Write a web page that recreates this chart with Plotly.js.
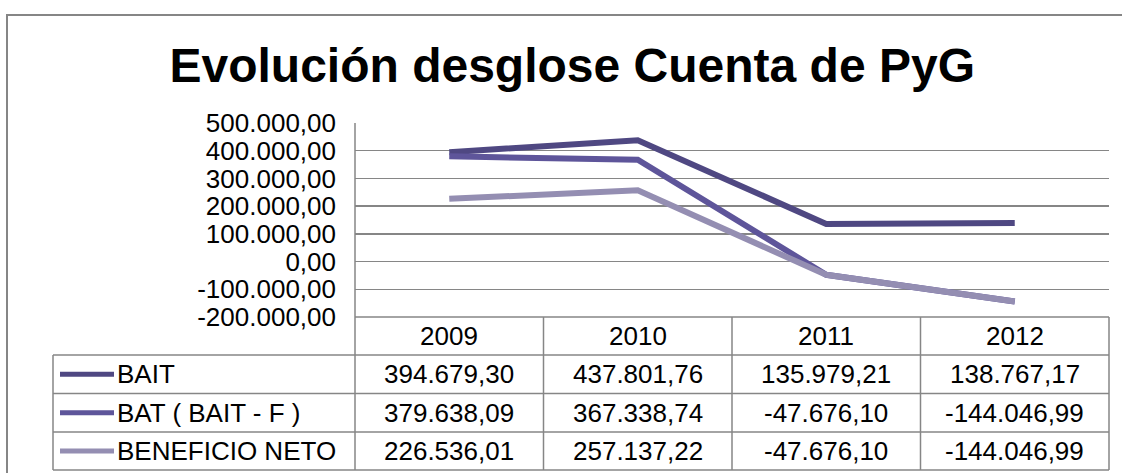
<!DOCTYPE html>
<html>
<head>
<meta charset="utf-8">
<script src="https://cdn.plot.ly/plotly-3.0.1.min.js"></script>
<style>
  body { margin: 0; background: #fff; }
  #graph { width: 1122px; height: 473px; }
</style>
</head>
<body>
<div id="graph"></div>
<script>
var years = ['2009', '2010', '2011', '2012'];
var names = ['BAIT', 'BAT ( BAIT - F )', 'BENEFICIO NETO'];
var bait = [394679.30, 437801.76, 135979.21, 138767.17];
var bat = [379638.09, 367338.74, -47676.10, -144046.99];
var neto = [226536.01, 257137.22, -47676.10, -144046.99];
var tickVals = [-200000, -100000, 0, 100000, 200000, 300000, 400000, 500000];

var colors = ['#4f4882', '#5e559a', '#948eb2'];
var series = [bait, bat, neto];
var fontFam = 'Liberation Sans, Arial, sans-serif';
var gridCol = '#868686';
var txtSize = 26;

// spanish number format 1.234,56
function fmt(v){
    var s = Math.abs(v).toFixed(2).split('.');
    var ent = s[0].replace(/\B(?=(\d{3})+(?!\d))/g, '.');
    return (v < 0 ? '-' : '') + ent + ',' + s[1];
}

// plot area is 355..1109 px wide, 123..317 px high
function px(x){ return (x - 355) / 754; }
function py(y){ return (317 - y) / 194; }

var charts = [];
for (var i = 0; i < series.length; i++){
    charts.push({
        type: 'scatter',
        mode: 'lines',
        x: years,
        y: series[i],
        line: {color: colors[i], width: 6},
        showlegend: false,
        hoverinfo: 'skip'
    });
}

var shapes = [];
var annotations = [];
function hline(x0, x1, y){
    shapes.push({type: 'line', xref: 'paper', yref: 'paper', x0: px(x0), x1: px(x1), y0: py(y), y1: py(y),
                 line: {color: gridCol, width: 1.5}});
}
function vline(x, y0, y1){
    shapes.push({type: 'line', xref: 'paper', yref: 'paper', x0: px(x), x1: px(x), y0: py(y0), y1: py(y1),
                 line: {color: gridCol, width: 1.5}});
}
function label(xr, x, y, txt, anchor){
    annotations.push({xref: xr, yref: 'paper', x: x, y: y, xanchor: anchor, yanchor: 'middle',
                      text: txt, showarrow: false,
                      font: {size: txtSize, color: '#000', family: fontFam}});
}

// outer frame
shapes.push({type: 'rect', xref: 'paper', yref: 'paper', x0: px(7), x1: px(1135), y0: py(15), y1: py(490),
             line: {color: gridCol, width: 2}});

// table grid
var rowY = [317, 355, 393.5, 432, 470];
var colX = [355, 543.5, 732, 920.5, 1109];
vline(355, 123, 470);
for (var c = 1; c < colX.length; c++) vline(colX[c], 317, 470);
vline(53, 355, 470);
hline(355, 1109, 317);
for (var r = 1; r < rowY.length; r++) hline(53, 1109, rowY[r]);

// header years
for (var c = 0; c < years.length; c++){
    label('x', c, py((rowY[0] + rowY[1]) / 2), years[c], 'center');
}

// rows
for (var i = 0; i < series.length; i++){
    var yc = (rowY[i + 1] + rowY[i + 2]) / 2;
    shapes.push({type: 'line', xref: 'paper', yref: 'paper', x0: px(60), x1: px(114), y0: py(yc), y1: py(yc),
                 line: {color: colors[i], width: 5}});
    label('paper', px(115), py(yc), names[i], 'left');
    for (var c = 0; c < years.length; c++){
        label('x', c, py(yc), fmt(series[i][c]), 'center');
    }
}

var layout = {
    width: 1122,
    height: 473,
    margin: {l: 355, r: 13, t: 123, b: 156, pad: 0},
    paper_bgcolor: '#fff',
    plot_bgcolor: '#fff',
    font: {family: fontFam, color: '#000'},
    title: {
        text: '<b>Evolución desglose Cuenta de PyG</b>',
        font: {size: 48, color: '#000', family: fontFam},
        xref: 'container', yref: 'container',
        x: 0.51, xanchor: 'center',
        y: 1 - 82 / 473, yanchor: 'bottom'
    },
    xaxis: {
        type: 'category',
        range: [-0.5, 3.5],
        showgrid: false,
        showticklabels: false,
        zeroline: false,
        showline: false,
        ticks: ''
    },
    yaxis: {
        range: [-200000, 500000],
        tickvals: tickVals,
        ticktext: tickVals.map(fmt),
        tickfont: {size: txtSize, color: '#000', family: fontFam},
        gridcolor: gridCol,
        gridwidth: 1.5,
        zeroline: false,
        showline: false,
        ticks: '',
        ticklabelstandoff: 18
    },
    shapes: shapes,
    annotations: annotations
};

Plotly.newPlot('graph', charts, layout, {displayModeBar: false, staticPlot: true});
</script>
</body>
</html>
